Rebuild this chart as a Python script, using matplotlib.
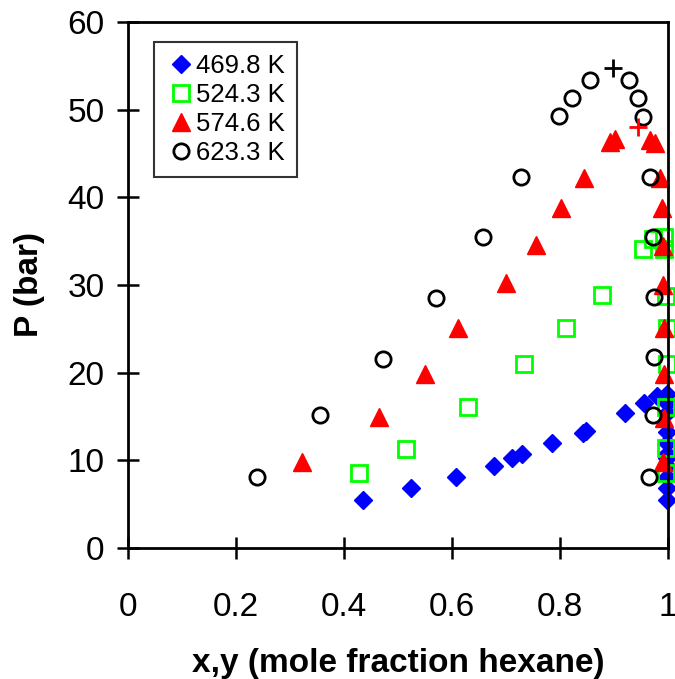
import matplotlib
matplotlib.use("Agg")
import matplotlib.pyplot as plt

plt.rcParams["font.family"] = ["Liberation Sans", "DejaVu Sans"]

# hexane mole fraction / pressure (bar), bubble and dew branches per isotherm
x_470 = [0.436, 0.525, 0.608, 0.678, 0.712, 0.729, 0.785, 0.843, 0.849, 0.920, 0.956, 0.979,
         0.998, 0.998, 0.998, 0.998, 0.998, 0.998, 0.998, 0.998, 0.998, 0.998, 0.998]
p_470 = [5.48, 6.81, 8.13, 9.39, 10.23, 10.68, 11.94, 13.15, 13.38, 15.36, 16.5, 17.34,
         5.48, 6.81, 8.13, 9.39, 10.23, 10.68, 11.94, 13.27, 15.36, 16.5, 17.6]

x_524 = [0.428, 0.514, 0.630, 0.734, 0.812, 0.878, 0.954, 0.973,
         0.997, 0.997, 0.997, 0.999, 0.999, 0.997, 0.992, 0.992]
p_524 = [8.52, 11.29, 16.05, 20.95, 25.06, 28.8, 34.1, 35.3,
         8.52, 11.37, 16.1, 21.0, 25.1, 28.7, 34.1, 35.5]

x_575 = [0.322, 0.465, 0.550, 0.612, 0.700, 0.756, 0.802, 0.844, 0.893, 0.902,
         0.991, 0.993, 0.993, 0.993, 0.991, 0.991, 0.988, 0.985, 0.976, 0.967]
p_575 = [9.85, 14.98, 19.8, 25.06, 30.2, 34.6, 38.8, 42.2, 46.3, 46.7,
         9.85, 14.8, 19.85, 25.06, 30.0, 34.4, 38.75, 42.2, 46.2, 46.5]

x_623 = [0.238, 0.356, 0.472, 0.570, 0.658, 0.727, 0.799, 0.823, 0.856,
         0.927, 0.945, 0.953, 0.967, 0.973, 0.974, 0.974, 0.973, 0.964]
p_623 = [8.13, 15.17, 21.6, 28.55, 35.5, 42.35, 49.3, 51.3, 53.4,
         53.4, 51.3, 49.2, 42.35, 35.5, 28.6, 21.75, 15.17, 8.13]

# critical points
xc_575, pc_575 = 0.945, 48.06
xc_623, pc_623 = 0.898, 54.7

fig = plt.figure(figsize=(6.75, 6.79), dpi=100)
ax = fig.add_axes([0.1896, 0.193, 0.80, 0.7746])

ax.plot(x_470, p_470, "D", color="#0000ff", ms=9.5, mec="#0000ff", ls="none",
        clip_on=False, label="469.8 K")
ax.plot(x_524, p_524, "s", mfc="none", mec="#00ff00", mew=2, ms=11, ls="none",
        clip_on=False, label="524.3 K")
ax.plot(x_575, p_575, "^", color="#ff0000", ms=12.5, ls="none",
        clip_on=False, label="574.6 K")
ax.plot(x_623, p_623, "o", mfc="none", mec="black", mew=2, ms=11, ls="none",
        clip_on=False, label="623.3 K")
ax.plot([xc_575], [pc_575], "+", color="#ff0000", ms=13, mew=2)
ax.plot([xc_623], [pc_623], "+", color="black", ms=13, mew=2)

ax.set_xlim(0, 1)
ax.set_ylim(0, 60)
ax.set_xticks([0, 0.2, 0.4, 0.6, 0.8, 1])
ax.set_xticklabels(["0", "0.2", "0.4", "0.6", "0.8", "1"])
ax.set_yticks(range(0, 61, 10))

for s in ax.spines.values():
    s.set_linewidth(2)
ax.tick_params(axis="both", direction="inout", length=16, width=1.8, labelsize=24)
ax.tick_params(axis="x", pad=24)
ax.tick_params(axis="y", pad=9)

ax.set_xlabel("x,y (mole fraction hexane)", fontsize=24, fontweight="bold", labelpad=18)
ax.set_ylabel("P (bar)", fontsize=24, fontweight="bold", labelpad=16)

leg = ax.legend(loc="upper left", bbox_to_anchor=(0.048, 0.962), fontsize=18.5,
                frameon=True, fancybox=False, borderpad=0.45, handletextpad=0.0,
                handlelength=1.2, labelspacing=0.2, borderaxespad=0)
leg.get_frame().set_edgecolor("black")
leg.get_frame().set_linewidth(1.5)

fig.savefig("out.png", dpi=100)
